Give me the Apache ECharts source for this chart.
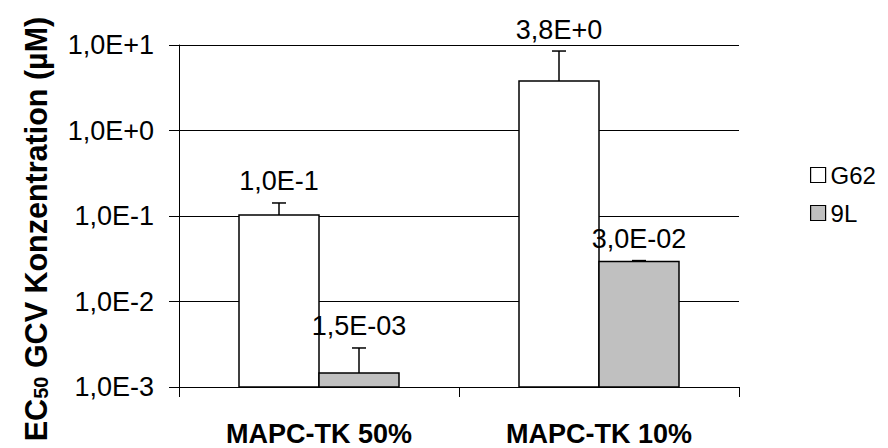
<!DOCTYPE html>
<html>
<head>
<meta charset="utf-8">
<script src="https://cdn.jsdelivr.net/npm/echarts@6/dist/echarts.min.js"></script>
<style>
html,body{margin:0;padding:0;background:#fff;}
#chart{width:888px;height:448px;}
</style>
</head>
<body>
<div id="chart"></div>
<script>
var categories = ["MAPC-TK 50%", "MAPC-TK 10%"];
var seriesNames = ["G62", "9L"];
var g62Values = [0.103, 3.8];
var l9Values = [0.00146, 0.0293];
var g62ErrTop = [0.142, 8.5];
var l9ErrTop = [0.00286, 0.0301];
var g62Labels = ["1,0E-1", "3,8E+0"];
var l9Labels = ["1,5E-03", "3,0E-02"];
var yTickValues = [0.001, 0.01, 0.1, 1, 10];
var yTickLabels = ["1,0E-3", "1,0E-2", "1,0E-1", "1,0E+0", "1,0E+1"];

var FONT = "'Liberation Sans', Arial, sans-serif";
var BAR_W = 80;
var Y_MIN = 0.001, Y_MAX = 10;
var G62_FILL = '#ffffff', L9_FILL = '#c0c0c0';

function tickLabel(v) {
  for (var i = 0; i < yTickValues.length; i++) {
    if (Math.abs(Math.log10(v) - Math.log10(yTickValues[i])) < 1e-6) return yTickLabels[i];
  }
  return '';
}

function barSeries(name, values, tops, labels, offsetSign, fill) {
  var data = [];
  for (var i = 0; i < values.length; i++) data.push([i, values[i], tops[i]]);
  return {
    type: 'custom',
    name: name,
    data: data,
    itemStyle: { color: fill, borderColor: '#000', borderWidth: 1.5 },
    encode: { x: 0, y: [1, 2] },
    renderItem: function (params, api) {
      var ci = api.value(0);
      var pBase = api.coord([ci, Y_MIN]);
      var pVal = api.coord([ci, api.value(1)]);
      var pTop = api.coord([ci, api.value(2)]);
      var cx = pBase[0] + offsetSign * BAR_W / 2;
      var cap = 7;
      return {
        type: 'group',
        children: [
          { type: 'rect', shape: { x: cx - BAR_W / 2, y: pVal[1], width: BAR_W, height: pBase[1] - pVal[1] },
            style: { fill: fill, stroke: '#000', lineWidth: 1.5 } },
          { type: 'line', shape: { x1: cx, y1: pVal[1], x2: cx, y2: pTop[1] }, style: { stroke: '#000', lineWidth: 1.5 } },
          { type: 'line', shape: { x1: cx - cap, y1: pTop[1], x2: cx + cap, y2: pTop[1] }, style: { stroke: '#000', lineWidth: 1.5 } },
          { type: 'text', x: cx, y: pTop[1] - 8,
            style: { text: labels[ci], fontFamily: FONT, fontSize: 27, fill: '#000', align: 'center', verticalAlign: 'bottom' } }
        ]
      };
    }
  };
}

var chart = echarts.init(document.getElementById('chart'), null, { renderer: 'svg' });
chart.setOption({
  backgroundColor: '#fff',
  animation: false,
  grid: { left: 179, right: 149, top: 45, bottom: 61, containLabel: false },
  legend: {
    orient: 'vertical',
    left: 805,
    top: 158,
    itemWidth: 15,
    itemHeight: 15,
    itemGap: 14,
    data: [
      { name: seriesNames[0], icon: 'rect', itemStyle: { color: G62_FILL, borderColor: '#000', borderWidth: 1.2 } },
      { name: seriesNames[1], icon: 'rect', itemStyle: { color: L9_FILL, borderColor: '#000', borderWidth: 1.2 } }
    ],
    textStyle: { fontFamily: FONT, fontSize: 24, color: '#000' }
  },
  xAxis: {
    type: 'category',
    data: categories,
    axisLine: { lineStyle: { color: '#000', width: 1 } },
    axisTick: { show: true, alignWithLabel: false, length: 10, lineStyle: { color: '#000' } },
    axisLabel: { margin: 33, fontFamily: FONT, fontSize: 27, fontWeight: 'bold', color: '#000' }
  },
  yAxis: {
    type: 'log',
    logBase: 10,
    min: Y_MIN,
    max: Y_MAX,
    name: '{b|EC}{s|50}{b| GCV Konzentration (µM)}',
    nameLocation: 'middle',
    nameRotate: 90,
    nameGap: 128,
    nameTextStyle: {
      padding: [0, 26, 0, 0],
      rich: {
        b: { fontFamily: FONT, fontSize: 30.5, fontWeight: 'bold', color: '#000', verticalAlign: 'bottom', lineHeight: 34 },
        s: { fontFamily: FONT, fontSize: 20, fontWeight: 'bold', color: '#000', verticalAlign: 'bottom', lineHeight: 30 }
      }
    },
    axisLine: { show: true, lineStyle: { color: '#000', width: 1 } },
    axisTick: { show: true, length: 10, lineStyle: { color: '#000' } },
    minorTick: { show: false },
    splitLine: { show: true, lineStyle: { color: '#000', width: 1 } },
    axisLabel: { margin: 25, fontFamily: FONT, fontSize: 27, color: '#000', formatter: tickLabel }
  },
  series: [
    barSeries(seriesNames[0], g62Values, g62ErrTop, g62Labels, -1, G62_FILL),
    barSeries(seriesNames[1], l9Values, l9ErrTop, l9Labels, 1, L9_FILL)
  ]
});
</script>
</body>
</html>
